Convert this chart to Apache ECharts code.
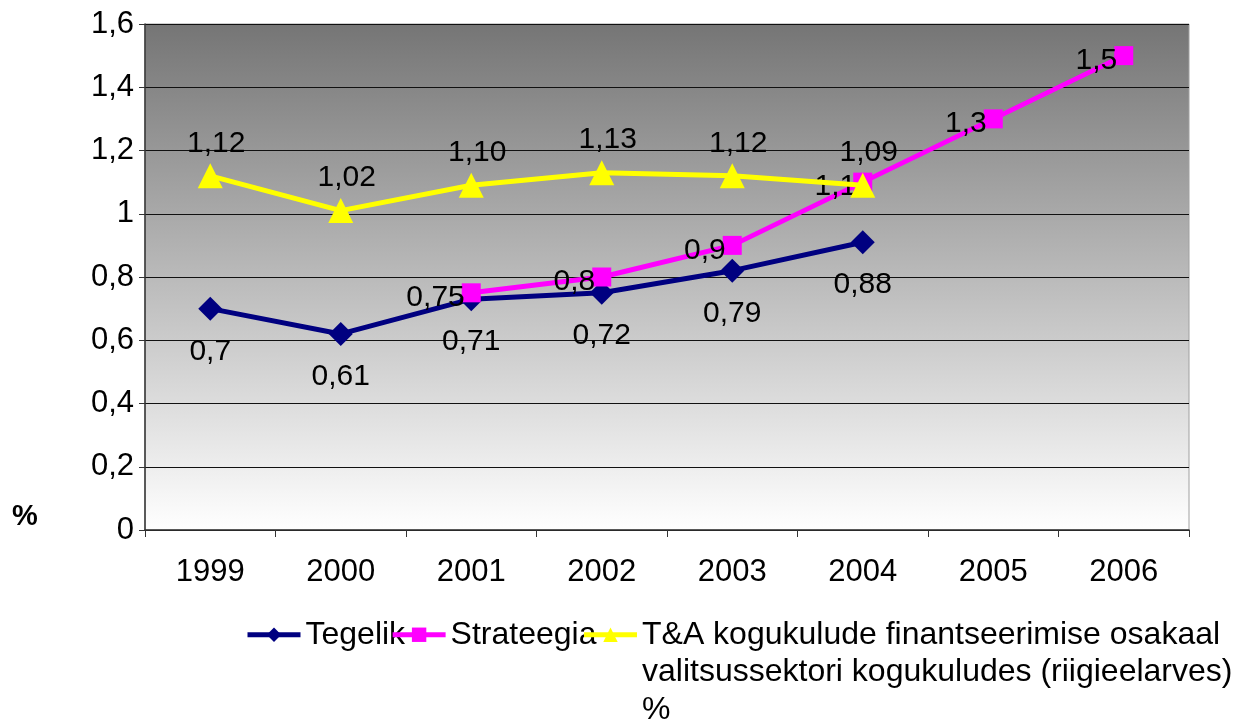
<!DOCTYPE html>
<html>
<head>
<meta charset="utf-8">
<script src="https://cdn.jsdelivr.net/npm/echarts@6/dist/echarts.min.js"></script>
<style>
  html, body { margin: 0; padding: 0; background: #fff; }
  #chart { width: 1236px; height: 723px; }
</style>
</head>
<body>
<div id="chart"></div>
<script>
// aastad (x-telg)
var years = ['1999', '2000', '2001', '2002', '2003', '2004', '2005', '2006'];

// Tegelik - punktide asukohad ja sildid nagu pildil
var tegelik = [0.70, 0.62, 0.73, 0.75, 0.82, 0.91, null, null];
var tegelikLabels = ['0,7', '0,61', '0,71', '0,72', '0,79', '0,88', '', ''];

// Strateegia
var strateegia = [null, null, 0.75, 0.80, 0.90, 1.10, 1.30, 1.50];
var strateegiaLabels = ['', '', '0,75', '0,8', '0,9', '1,1', '1,3', '1,5'];

// T&A kogukulude osakaal
var tja = [1.12, 1.01, 1.09, 1.13, 1.12, 1.09, null, null];
var tjaLabels = ['1,12', '1,02', '1,10', '1,13', '1,12', '1,09', '', ''];

var yTicks = [0, 0.2, 0.4, 0.6, 0.8, 1, 1.2, 1.4, 1.6];

var tjaName = 'T&A kogukulude finantseerimise osakaal\nvalitsussektori kogukuludes (riigieelarves)\n%';
var font = 'Liberation Sans, Arial, sans-serif';
var axisFs = 31;  // telgede sildid
var dataFs = 30;  // andmesildid
var legendFs = 32;

var myChart = echarts.init(document.getElementById('chart'));

function labelFrom(arr) {
  return function (p) { return arr[p.dataIndex]; };
}

var option = {
  animation: false,
  textStyle: { fontFamily: font },
  title: {
    text: '%',
    left: 7,
    top: 497,
    textStyle: { fontFamily: font, fontSize: 29, fontWeight: 'bold', color: '#000' }
  },
  grid: {
    left: 145,
    right: 47,
    top: 24,
    bottom: 193,
    show: true,
    borderColor: '#a0a0a0',
    borderWidth: 1,
    backgroundColor: new echarts.graphic.LinearGradient(0, 0, 0, 1, [
      { offset: 0, color: '#757575' },
      { offset: 1, color: '#ffffff' }
    ])
  },
  legend: {
    left: 245,
    top: 541,
    width: 1100,
    padding: 0,
    itemWidth: 53,
    itemHeight: 18,
    itemGap: -15,
    lineStyle: { width: 5 },
    textStyle: { fontFamily: font, fontSize: legendFs, color: '#000', lineHeight: 37.5 },
    // kaks tühja rida ette, et esimene rida jääks ikooni kõrgusele
    formatter: function (name) {
      return name === tjaName ? '\n\n' + name : name;
    },
    data: ['Tegelik', 'Strateegia', tjaName]
  },
  xAxis: {
    type: 'category',
    data: years,
    boundaryGap: true,
    axisLine: { lineStyle: { color: '#333', width: 1.5 } },
    axisTick: { show: true, length: 7, lineStyle: { color: '#333' } },
    axisLabel: { color: '#000', fontSize: axisFs, margin: 27, fontFamily: font }
  },
  yAxis: {
    type: 'value',
    min: 0,
    max: 1.6,
    interval: 0.2,
    axisLine: { show: true, lineStyle: { color: '#333', width: 1.5 } },
    axisTick: { show: true, length: 6, lineStyle: { color: '#333' } },
    splitLine: { lineStyle: { color: '#111', width: 1 } },
    axisLabel: {
      color: '#000',
      fontSize: axisFs,
      margin: 11,
      fontFamily: font,
      formatter: function (v) {
        // lähim märgend yTicks massiivist, koma kümnenderaldajaks
        var t = yTicks.reduce(function (a, b) { return Math.abs(b - v) < Math.abs(a - v) ? b : a; });
        return String(t).replace('.', ',');
      }
    }
  },
  series: [
    {
      name: 'Tegelik',
      type: 'line',
      data: tegelik,
      z: 2,
      symbol: 'diamond',
      symbolSize: 24,
      lineStyle: { color: '#000080', width: 5 },
      itemStyle: { color: '#000080' },
      label: {
        show: true,
        position: 'bottom',
        distance: 16,
        color: '#000',
        fontSize: dataFs,
        fontFamily: font,
        formatter: labelFrom(tegelikLabels)
      }
    },
    {
      name: 'Strateegia',
      type: 'line',
      data: strateegia,
      z: 3,
      symbol: 'rect',
      symbolSize: 19,
      lineStyle: { color: '#ff00ff', width: 5 },
      itemStyle: { color: '#ff00ff' },
      label: {
        show: true,
        position: 'left',
        distance: -3,
        offset: [0, 5],
        color: '#000',
        fontSize: dataFs,
        fontFamily: font,
        formatter: labelFrom(strateegiaLabels)
      }
    },
    {
      name: tjaName,
      type: 'line',
      data: tja,
      z: 4,
      symbol: 'triangle',
      symbolSize: 25,
      lineStyle: { color: '#ffff00', width: 5 },
      itemStyle: { color: '#ffff00' },
      label: {
        show: true,
        position: 'top',
        distance: 5,
        offset: [6, 0],
        color: '#000',
        fontSize: dataFs,
        fontFamily: font,
        formatter: labelFrom(tjaLabels)
      }
    }
  ]
};

myChart.setOption(option);
</script>
</body>
</html>
